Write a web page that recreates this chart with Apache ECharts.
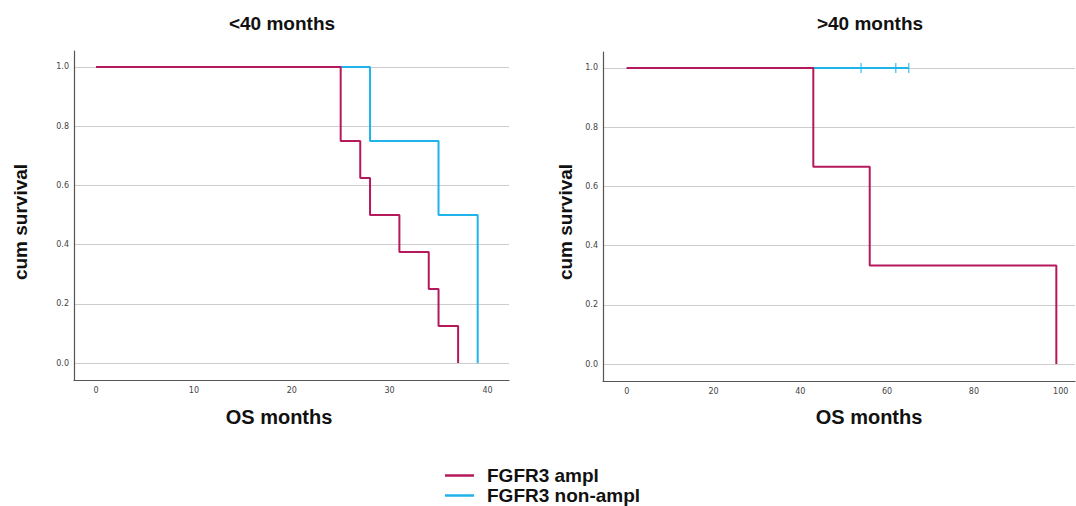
<!DOCTYPE html>
<html>
<head>
<meta charset="utf-8">
<script src="https://cdn.jsdelivr.net/npm/echarts@6/dist/echarts.min.js"></script>
<style>
html, body { margin: 0; background: #fff; }
#main { width: 1076px; height: 506px; }
</style>
</head>
<body>
<div id="main"></div>
<script>
// survival curves: [OS months, cum survival]
var amplShort = [[0, 1], [25, 0.75], [27, 0.625], [28, 0.5], [31, 0.375], [34, 0.25], [35, 0.125], [37, 0]];
var nonAmplShort = [[0, 1], [28, 0.75], [35, 0.5], [39, 0]];
var amplLong = [[0, 1], [43, 0.6667], [56, 0.3333], [99, 0]];
var nonAmplLong = [[0, 1], [65, 1]];
var censoredLong = [[54, 1], [62, 1], [65, 1]];

var yTicks = [0, 0.2, 0.4, 0.6, 0.8, 1.0];
var xTicksShort = [0, 10, 20, 30, 40];
var xTicksLong = [0, 20, 40, 60, 80, 100];

var RED = '#b5195c';
var BLUE = '#1fb3ec';
var AXIS = '#555';

var myChart = echarts.init(document.getElementById('main'), null, {renderer: 'svg'});

function yAxisFor(idx) {
    return {
        type: 'value',
        gridIndex: idx,
        min: -0.057,
        max: 1.054,
        axisLine: {show: true, onZero: false, lineStyle: {color: AXIS, width: 1.2}},
        axisTick: {show: false, customValues: yTicks},
        axisLabel: {
            customValues: yTicks,
            formatter: function (v) { return v.toFixed(1); },
            fontSize: 8, color: '#444', margin: 5, fontFamily: 'DejaVu Sans'
        },
        splitLine: {show: true, lineStyle: {color: '#cdcdcd', width: 1}}
    };
}

function xAxisFor(idx, min, max, ticks) {
    return {
        type: 'value',
        gridIndex: idx,
        min: min,
        max: max,
        axisLine: {show: true, onZero: false, lineStyle: {color: AXIS, width: 1.2}},
        axisTick: {show: false, customValues: ticks},
        axisLabel: {
            customValues: ticks,
            fontSize: 8, color: '#444', margin: 6, fontFamily: 'DejaVu Sans'
        },
        splitLine: {show: false}
    };
}

function bigText(txt, x, y, size, rot) {
    return {
        type: 'text',
        x: x, y: y,
        rotation: rot || 0,
        style: {
            text: txt,
            fill: '#111',
            fontSize: size,
            fontWeight: 'bold',
            fontFamily: 'Liberation Sans',
            align: 'center',
            verticalAlign: 'middle'
        }
    };
}

var option = {
    animation: false,
    backgroundColor: '#fff',
    grid: [
        {left: 74, top: 51, width: 435, height: 329},
        {left: 603, top: 52, width: 472, height: 329}
    ],
    xAxis: [
        xAxisFor(0, -2.25, 42.2, xTicksShort),
        xAxisFor(1, -5.46, 103.3, xTicksLong)
    ],
    yAxis: [yAxisFor(0), yAxisFor(1)],
    legend: {
        orient: 'vertical',
        left: 445,
        top: 466,
        height: 80,
        padding: 0,
        itemWidth: 29,
        itemHeight: 2.5,
        itemGap: 1,
        textStyle: {
            fontSize: 19, fontWeight: 'bold', color: '#111', fontFamily: 'Liberation Sans',
            padding: [0, 0, 0, 8]
        },
        data: [
            {name: 'FGFR3 ampl', icon: 'rect'},
            {name: 'FGFR3 non-ampl', icon: 'rect'}
        ]
    },
    graphic: [
        bigText('<40 months', 282, 23, 19),
        bigText('>40 months', 870, 23, 19),
        bigText('OS months', 279, 417, 20),
        bigText('OS months', 869, 417, 20),
        bigText('cum survival', 20, 222, 19, Math.PI / 2),
        bigText('cum survival', 565, 222, 19, Math.PI / 2)
    ],
    series: [
        {
            name: 'FGFR3 non-ampl', type: 'line', step: 'end',
            xAxisIndex: 0, yAxisIndex: 0, symbol: 'none',
            lineStyle: {color: BLUE, width: 2}, itemStyle: {color: BLUE},
            data: nonAmplShort
        },
        {
            name: 'FGFR3 ampl', type: 'line', step: 'end',
            xAxisIndex: 0, yAxisIndex: 0, symbol: 'none',
            lineStyle: {color: RED, width: 2}, itemStyle: {color: RED},
            data: amplShort
        },
        {
            name: 'FGFR3 non-ampl', type: 'line', step: 'end',
            xAxisIndex: 1, yAxisIndex: 1, symbol: 'none',
            lineStyle: {color: BLUE, width: 2}, itemStyle: {color: BLUE},
            data: nonAmplLong
        },
        {
            name: 'FGFR3 non-ampl', type: 'scatter',
            xAxisIndex: 1, yAxisIndex: 1,
            symbol: 'rect', symbolSize: [1.3, 10],
            itemStyle: {color: BLUE},
            data: censoredLong
        },
        {
            name: 'FGFR3 ampl', type: 'line', step: 'end',
            xAxisIndex: 1, yAxisIndex: 1, symbol: 'none',
            lineStyle: {color: RED, width: 2}, itemStyle: {color: RED},
            data: amplLong
        }
    ]
};

myChart.setOption(option);
</script>
</body>
</html>
